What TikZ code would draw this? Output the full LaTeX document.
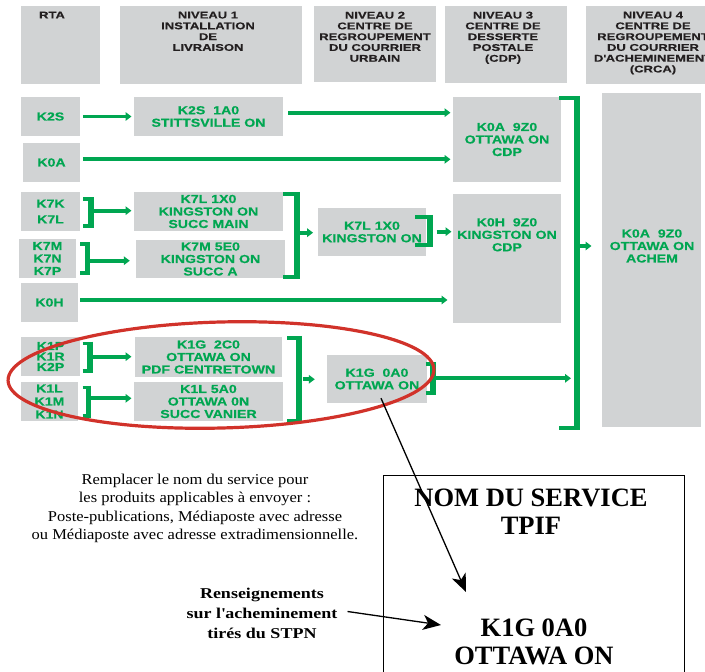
\documentclass[tikz,border=0pt]{standalone}
\usepackage{fontspec}
\setmainfont{Liberation Serif}
\newfontfamily\grnfont[FakeStretch=1.22,FakeBold=0.4]{Liberation Sans}
\newfontfamily\hdrfont[FakeStretch=1.33,FakeBold=0.3]{Liberation Sans}
\newfontfamily\notefont[FakeStretch=1.1]{Liberation Serif}
\newfontfamily\rensfont[FakeStretch=1.2]{Liberation Serif}
\usepackage{tikz}
\usetikzlibrary{arrows.meta}
\definecolor{cpgreen}{RGB}{0,166,81}
\definecolor{cpgray}{RGB}{209,211,212}
\definecolor{cpred}{RGB}{209,50,42}
\definecolor{hdrgray}{RGB}{35,31,32}
\tikzset{
  postbox/.style={fill=cpgray, inner sep=0pt, align=center, text=cpgreen,
    font=\grnfont\bfseries\fontsize{11.6}{12.5}\selectfont},
  posttxt/.style={inner sep=0pt, align=center, text=cpgreen,
    font=\grnfont\bfseries\fontsize{11.6}{12.5}\selectfont},
  hdrbox/.style={fill=cpgray, inner sep=0pt, anchor=north west},
  hdrtxt/.style={anchor=north, inner sep=0pt, align=center, text=hdrgray,
    font=\hdrfont\bfseries\fontsize{9.8}{10.8}\selectfont},
  garr/.style={-{Triangle[length=6pt,width=8.5pt]}, cpgreen, line width=3.8pt},
  brkh/.style={cpgreen, line width=3.8pt},
  brkv/.style={cpgreen, line width=5.8pt},
  ring/.style={draw=cpred, line width=3.2pt},
  barr/.style={-{Stealth[length=18pt,width=15pt,inset=5pt]}, line width=1.3pt},
  notetxt/.style={anchor=north, inner sep=0pt, align=center,
    font=\notefont\fontsize{15}{18.4}\selectfont},
  renstxt/.style={anchor=north, inner sep=0pt, align=center,
    font=\rensfont\bfseries\fontsize{15}{20}\selectfont},
  svctxt/.style={anchor=north, inner sep=0pt, align=center,
    font=\bfseries\fontsize{26.5}{28}\selectfont},
}
% bracket: name, stub x, bar x, top y, bottom y, exit y
\newcommand{\gbracket}[6]{%
  \draw[brkh] (#2,#4) -- (#3,#4) (#2,#5) -- (#3,#5);
  \draw[brkv] (#3,#4-1.9) -- (#3,#5+1.9);
  \coordinate (#1) at (#3,#6);
}

\begin{document}
\begin{tikzpicture}[x=1pt,y=-1pt]
  \useasboundingbox (0,0) rectangle (705,672);

  % column headers
  \node[hdrbox, minimum width=79pt, minimum height=78pt] (hRTA) at (21,6) {};
  \node[hdrbox, minimum width=182pt, minimum height=78pt] (hN1) at (120,6) {};
  \node[hdrbox, minimum width=122pt, minimum height=76pt] (hN2) at (313.5,6) {};
  \node[hdrbox, minimum width=122pt, minimum height=77pt] (hN3) at (444.5,6) {};
  \node[hdrbox, minimum width=130pt, minimum height=78pt] (hN4) at (586,6) {};
  \node[hdrtxt] (tRTA) at (52,11.5) {RTA};
  \node[hdrtxt] (tN1) at (208,11.5) {NIVEAU 1\\INSTALLATION\\DE\\LIVRAISON};
  \node[hdrtxt] (tN2) at (375,11.5) {NIVEAU 2\\CENTRE DE\\REGROUPEMENT\\DU COURRIER\\URBAIN};
  \node[hdrtxt] (tN3) at (503,11.5) {NIVEAU 3\\CENTRE DE\\DESSERTE\\POSTALE\\(CDP)};
  \node[hdrtxt] (tN4) at (653,11.5) {NIVEAU 4\\CENTRE DE\\REGROUPEMENT\\DU COURRIER\\D\textquotesingle ACHEMINEMENT\\(CRCA)};

  % RTA column
  \node[postbox, minimum width=59pt, minimum height=39pt] (r1) at (50.5,116.5) {K2S};
  \node[postbox, minimum width=57pt, minimum height=39pt] (r2) at (51.5,162.5) {K0A};
  \node[postbox, minimum width=59pt, minimum height=39pt] (r3) at (50.5,211.5) {K7K\\[3.2pt]K7L};
  \node[postbox, minimum width=57pt, minimum height=39pt] (r4) at (47.5,258.5) {K7M\\K7N\\K7P};
  \node[postbox, minimum width=57pt, minimum height=39pt] (r5) at (49.5,302.5) {K0H};
  \node[postbox, minimum width=59pt, minimum height=39pt] (r6) at (50.5,356.5) {K1P\\[-2pt]K1R\\[-2pt]K2P};
  \node[postbox, minimum width=57pt, minimum height=39pt] (r7) at (49.5,401.5) {K1L\\[0.5pt]K1M\\[0.5pt]K1N};

  % niveau 1
  \node[postbox, minimum width=149pt, minimum height=39pt] (n1a) at (208.5,116.5) {K2S\ \ 1A0\\STITTSVILLE ON};
  \node[postbox, minimum width=149pt, minimum height=39pt] (n1b) at (208.5,211.5) {K7L 1X0\\KINGSTON ON\\SUCC MAIN};
  \node[postbox, minimum width=149pt, minimum height=38pt] (n1c) at (210.5,259) {K7M 5E0\\KINGSTON ON\\SUCC A};
  \node[postbox, minimum width=147pt, minimum height=40pt] (n1d) at (208.5,357) {K1G\ \ 2C0\\OTTAWA ON\\PDF CENTRETOWN};
  \node[postbox, minimum width=149pt, minimum height=39pt] (n1e) at (208.5,401.5) {K1L 5A0\\OTTAWA 0N\\SUCC VANIER};

  % niveau 2
  \node[postbox, minimum width=108pt, minimum height=48pt] (n2a) at (372,232) {K7L 1X0\\KINGSTON ON};
  \node[postbox, minimum width=100pt, minimum height=48pt] (n2b) at (377,379) {K1G\ \ 0A0\\OTTAWA ON};

  % niveau 3 and 4
  \node[postbox, minimum width=108pt, minimum height=85pt] (n3a) at (507,139.5) {K0A\ \ 9Z0\\OTTAWA ON\\CDP};
  \node[postbox, minimum width=108pt, minimum height=129pt] (n3b) at (507,258.5) {};
  \node[posttxt, anchor=north] (n3bt) at (507,218) {K0H\ \ 9Z0\\KINGSTON ON\\CDP};
  \node[postbox, minimum width=99pt, minimum height=334pt] (n4) at (651.5,260) {};
  \node[posttxt] (n4t) at (652,246) {K0A\ \ 9Z0\\OTTAWA ON\\ACHEM};

  % brackets
  \gbracket{b3}{83.3}{91.2}{199.2}{226.3}{210.7}
  \gbracket{b4}{80}{87.5}{244.2}{273}{260.7}
  \gbracket{b6}{82.7}{90}{343.5}{371.3}{356.7}
  \gbracket{b7}{82.7}{88.5}{387.5}{416.2}{398.3}
  \gbracket{bK}{283.3}{296.7}{193.8}{276.7}{232.7}
  \gbracket{bN2}{415}{430.3}{216.7}{245}{231.7}
  \gbracket{bO}{287}{299}{337.8}{420.8}{379.3}
  \gbracket{bO2}{425.7}{433}{364}{392.7}{378.3}
  \gbracket{bC}{559.3}{576.8}{97.8}{427.8}{246}

  % green arrows
  \coordinate (a1) at ([yshift=3.8pt]n1a.east);
  \coordinate (a2) at ([yshift=3.2pt]r2.east);
  \coordinate (a5) at ([yshift=2.5pt]r5.east);
  \draw[garr, shorten <=2.7pt, shorten >=2.3pt] (r1) -- (n1a);
  \draw[garr, shorten <=5pt, shorten >=2.3pt] (a1) -- (a1 -| n3a.west);
  \draw[garr, shorten <=2.7pt, shorten >=2.3pt] (a2) -- (a2 -| n3a.west);
  \draw[garr, shorten <=2pt, shorten >=5.3pt] (a5) -- (a5 -| n3b.west);
  \draw[garr, shorten <=2.8pt, shorten >=2.3pt] (b3) -- (b3 -| n1b.west);
  \draw[garr, shorten <=2.9pt, shorten >=6pt] (b4) -- (b4 -| n1c.west);
  \draw[garr, shorten <=2.9pt, shorten >=3.3pt] (b6) -- (b6 -| n1d.west);
  \draw[garr, shorten <=2.9pt, shorten >=2.3pt] (b7) -- (b7 -| n1e.west);
  \draw[garr, shorten <=3pt, shorten >=4.7pt] (bK) -- (bK -| n2a.west);
  \draw[garr, shorten <=6.4pt, shorten >=1.3pt] (bN2) -- (bN2 -| n3b.west);
  \draw[garr, shorten <=4pt, shorten >=12pt] (bO) -- (bO -| n2b.west);
  \draw[garr, shorten <=2.7pt, shorten >=5.8pt] (bO2) -- (bO2 -| bC);
  \draw[garr, shorten <=3.2pt, shorten >=10.3pt] (bC) -- (bC -| n4.west);

  % red ring
  \draw[ring] (221,375) ellipse [x radius=213, y radius=53, rotate=1.5];

  % notes
  \node[notetxt] (note) at (195,473.7) {Remplacer le nom du service pour\\les produits applicables à envoyer :\\Poste-publications, Médiaposte avec adresse\\ou Médiaposte avec adresse extradimensionnelle.};
  \node[renstxt] (rens) at (262,588) {Renseignements\\sur l\textquotesingle acheminement\\tirés du STPN};

  % service box
  \node[draw, line width=1.4pt, anchor=north west, inner sep=0pt,
        minimum width=301pt, minimum height=225pt] (svcbox) at (383,475) {};
  \node[svctxt] (svcname) at (531,488.7) {NOM DU SERVICE\\TPIF};
  \node[svctxt] (svccode) at (534,618.8) {K1G 0A0\\OTTAWA ON};

  \coordinate (tipA) at (466,592);
  \coordinate (tipB) at (441,625);
  \draw[barr] ([xshift=4pt,yshift=5pt]n2b.south) -- (tipA);
  \draw[barr] ([xshift=10pt,yshift=2pt]rens.east) -- (tipB);
\end{tikzpicture}
\end{document}
